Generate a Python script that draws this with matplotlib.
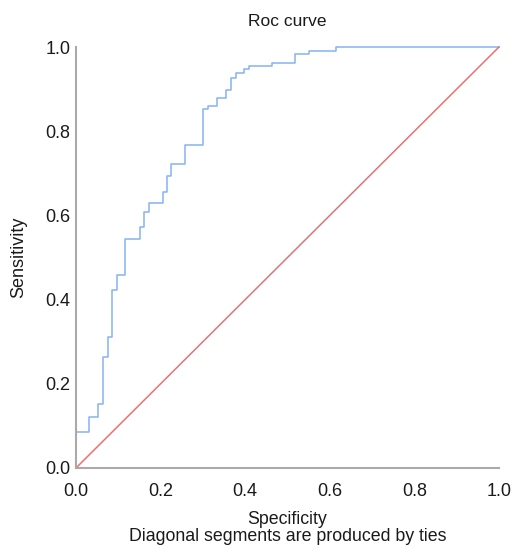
import matplotlib
matplotlib.use("Agg")
import matplotlib.pyplot as plt

# ROC step curve (x = 1 - specificity, y = sensitivity)
roc_x = [0, 0, 0.031, 0.053, 0.065, 0.075, 0.084, 0.096, 0.117, 0.151, 0.161,
         0.173, 0.205, 0.214, 0.225, 0.258, 0.301, 0.311, 0.333, 0.354, 0.366,
         0.378, 0.398, 0.410, 0.463, 0.518, 0.551, 0.615, 1.0]
roc_y = [0, 0.085, 0.122, 0.152, 0.263, 0.310, 0.423, 0.458, 0.543, 0.572, 0.609,
         0.629, 0.655, 0.694, 0.721, 0.767, 0.853, 0.860, 0.880, 0.898, 0.926,
         0.938, 0.947, 0.955, 0.963, 0.983, 0.990, 1.0, 1.0]
chance_x = [0, 1]
chance_y = [0, 1]
ticks = [0.0, 0.2, 0.4, 0.6, 0.8, 1.0]
tick_labels = ["0.0", "0.2", "0.4", "0.6", "0.8", "1.0"]

plt.rcParams['font.family'] = ['Liberation Sans', 'DejaVu Sans']

fig = plt.figure(figsize=(5.15, 5.46), dpi=100)
ax = fig.add_axes([76 / 515, 1 - 468 / 546, 423 / 515, 421 / 546])

ax.step(roc_x, roc_y, where='post', color='#85b3f2', linewidth=1.1, clip_on=False)
ax.plot(chance_x, chance_y, color='#e57373', linewidth=1.1, clip_on=False)

ax.set_xlim(0, 1)
ax.set_ylim(0, 1)
ax.set_xticks(ticks)
ax.set_xticklabels(tick_labels)
ax.set_yticks(ticks)
ax.set_yticklabels(tick_labels)
ax.tick_params(axis='both', length=0, labelsize=13, colors='#1a1a1a')
ax.tick_params(axis='x', pad=11)
ax.tick_params(axis='y', pad=4)

# Only left and bottom axis lines, grey
for side in ['top', 'right']:
    ax.spines[side].set_visible(False)
for side in ['left', 'bottom']:
    ax.spines[side].set_color('#aaaaaa')
    ax.spines[side].set_linewidth(1.5)

ax.set_title('Roc curve', fontsize=12.5, pad=15, color='#1a1a1a')
ax.set_xlabel('Specificity\nDiagonal segments are produced by ties',
              fontsize=12.8, labelpad=8, color='#1a1a1a', linespacing=0.95)
ax.set_ylabel('Sensitivity', fontsize=13, labelpad=13, color='#1a1a1a')

fig.savefig('out.png', dpi=100)
